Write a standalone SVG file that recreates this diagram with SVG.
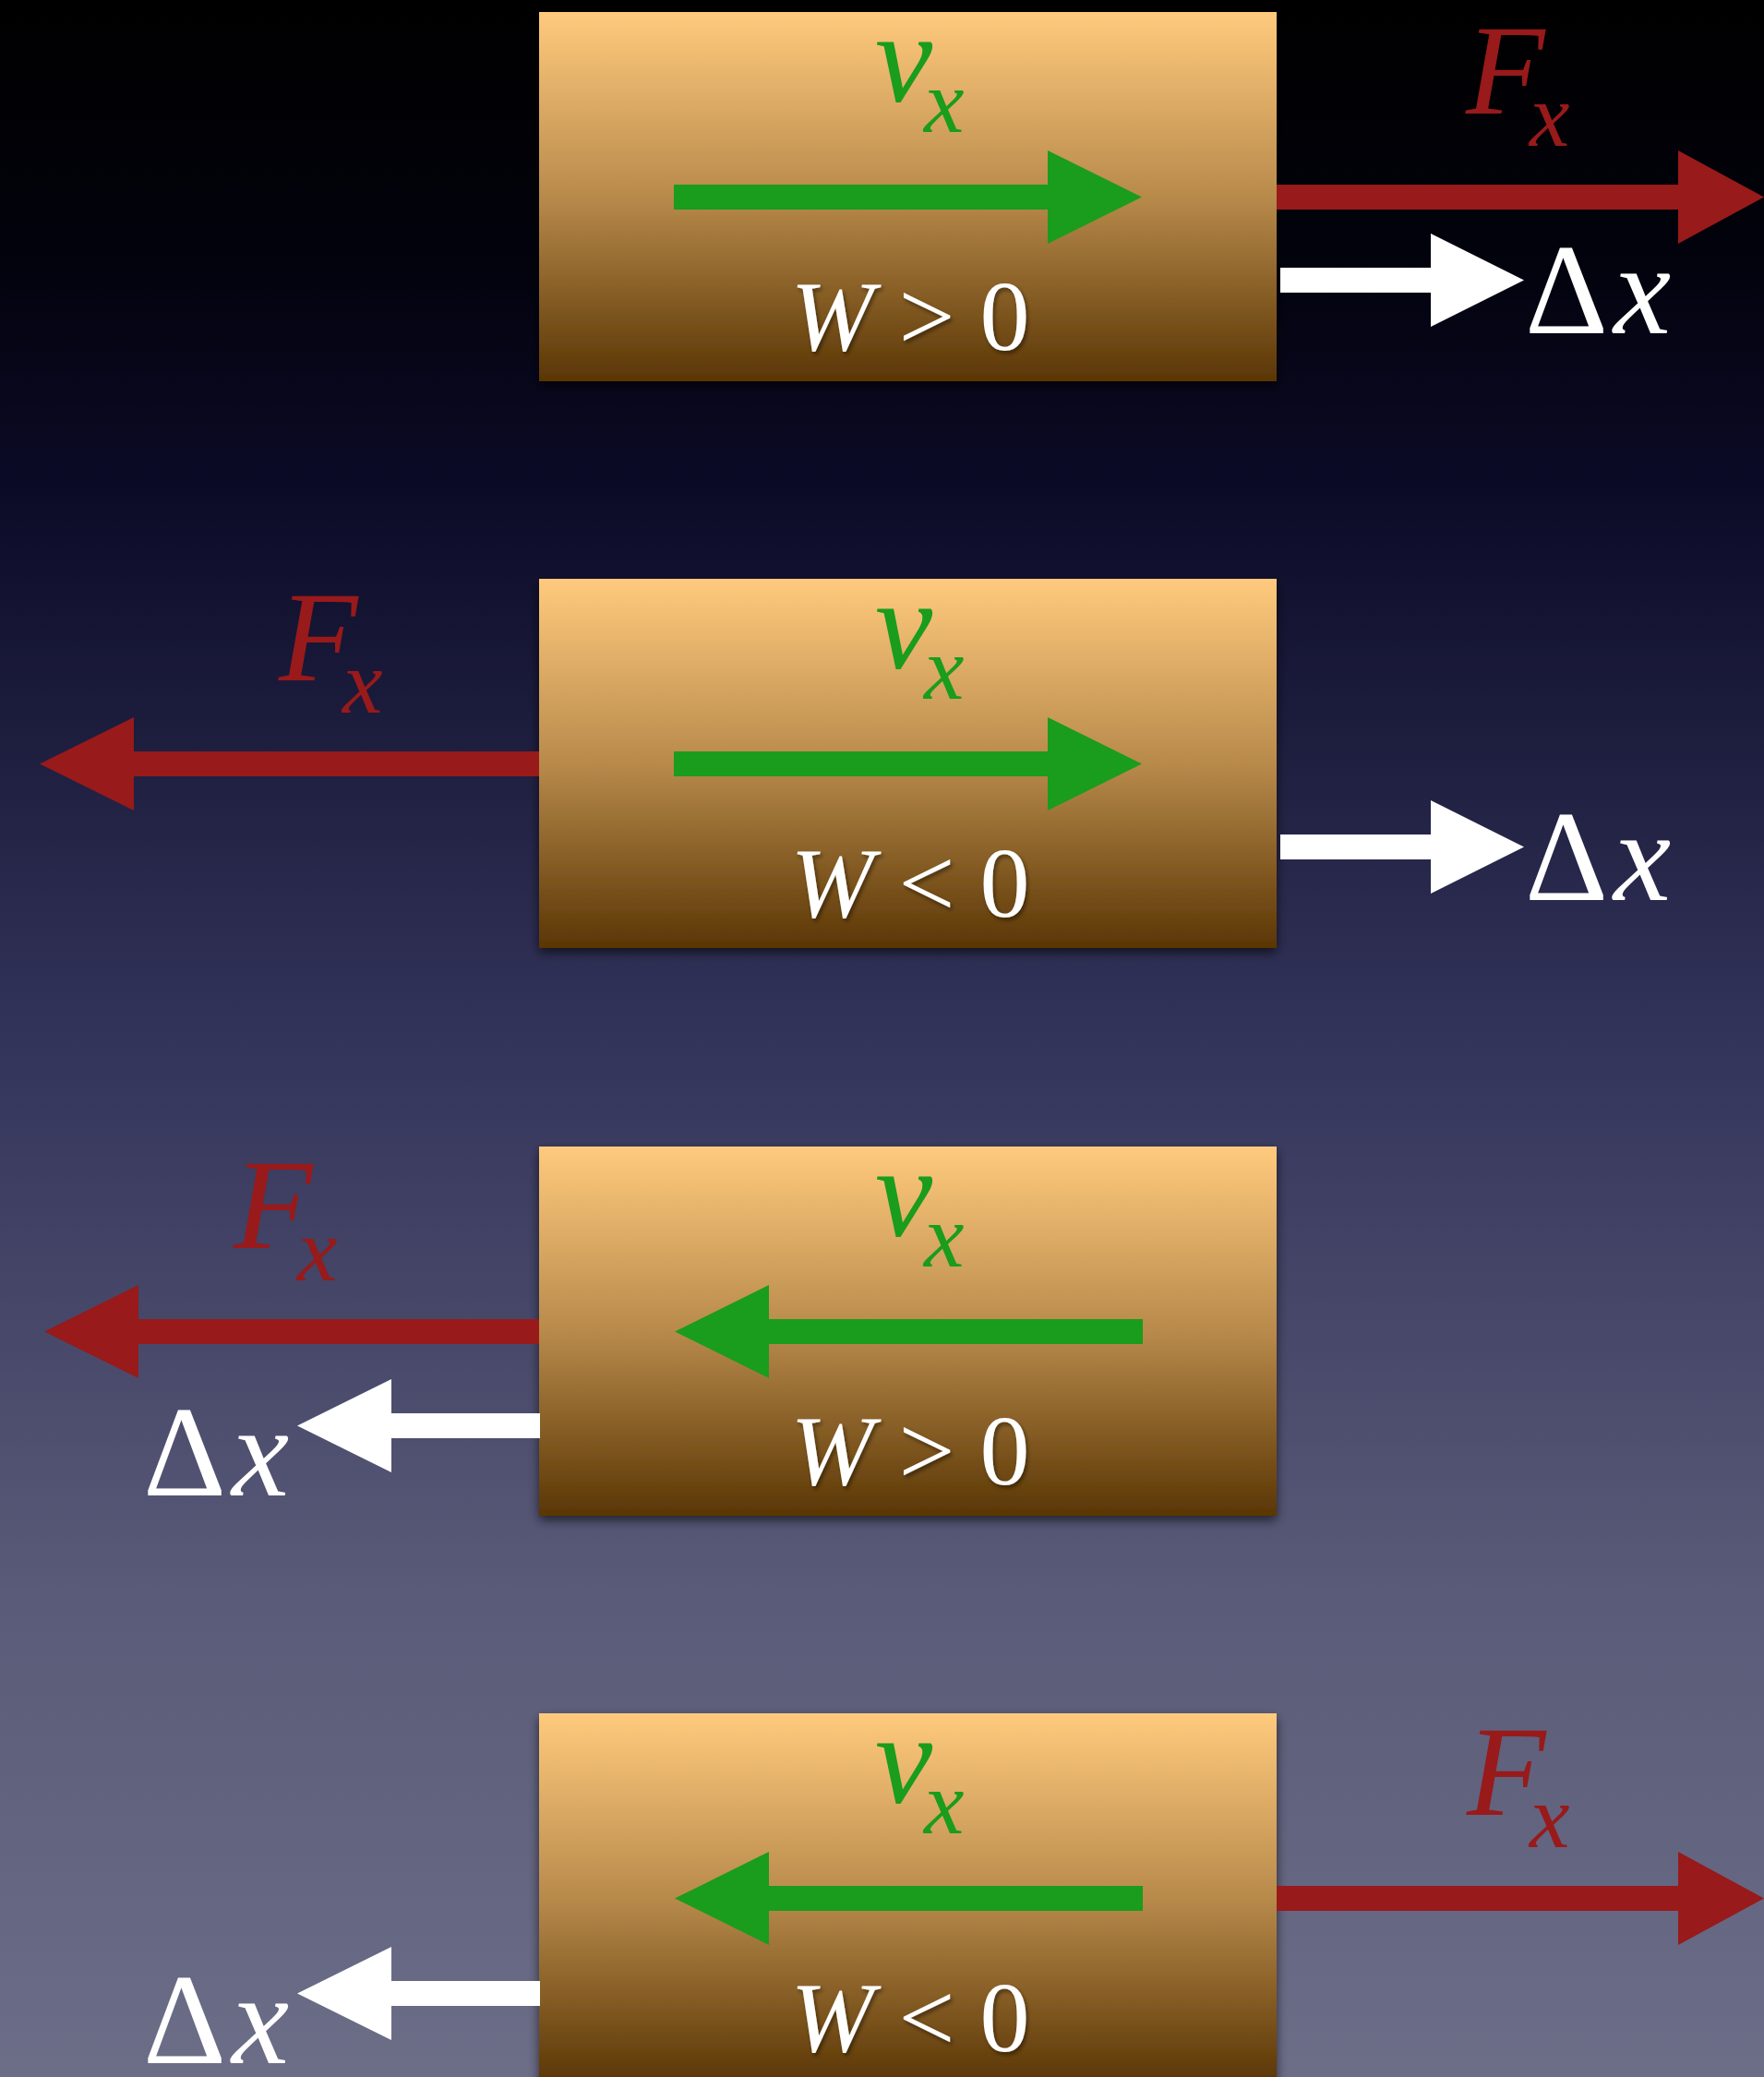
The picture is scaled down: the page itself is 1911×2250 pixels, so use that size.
<svg xmlns="http://www.w3.org/2000/svg" width="1911" height="2250" viewBox="0 0 1911 2250">
  <defs>
    <linearGradient id="bg" x1="0" y1="0" x2="0" y2="1">
      <stop offset="0" stop-color="#000000"/>
      <stop offset="0.12" stop-color="#02020c"/>
      <stop offset="0.24" stop-color="#0c0b28"/>
      <stop offset="0.5" stop-color="#33345a"/>
      <stop offset="0.77" stop-color="#5a5b78"/>
      <stop offset="1" stop-color="#6c6d87"/>
    </linearGradient>
    <linearGradient id="boxg" x1="0" y1="0" x2="0" y2="1">
      <stop offset="0" stop-color="#ffca7d"/>
      <stop offset="0.5" stop-color="#b88a4b"/>
      <stop offset="1" stop-color="#5a3604"/>
    </linearGradient>
    <filter id="shadow" x="-5%" y="-5%" width="110%" height="115%">
      <feDropShadow dx="0" dy="5" stdDeviation="6" flood-color="#000" flood-opacity="0.6"/>
    </filter>
    <filter id="tshadow" x="-10%" y="-10%" width="120%" height="130%">
      <feDropShadow dx="2" dy="3" stdDeviation="2" flood-color="#000" flood-opacity="0.45"/>
    </filter>
  </defs>
  <style>
    .box { fill: url(#boxg); filter: url(#shadow); }
    .green { fill: #1a9c1d; }
    .red { fill: #981a1a; }
    .white { fill: #ffffff; }
    .math { font-family: "Liberation Serif", "Times New Roman", serif; }
    .it { font-style: italic; }
    .big { font-size: 140px; }
    .sub { font-size: 98px; }
    .w { font-size: 108px; fill: #ffffff; text-anchor: middle; filter: url(#tshadow); }
    .vlab { fill: #1a9c1d; }
    .flab { fill: #981a1a; }
    .dlab { fill: #ffffff; }
  </style>
  <rect x="0" y="0" width="1911" height="2250" fill="url(#bg)"/>

  <g id="block1">
    <rect class="box" x="584" y="13" width="799" height="400"/>
    <text class="math it big vlab" x="948" y="110">v<tspan class="sub" x="1001" y="143">x</tspan></text>
    <text class="math w" x="986" y="379"><tspan class="it">W</tspan> &gt; 0</text>
  </g>
  <g id="block2">
    <rect class="box" x="584" y="627" width="799" height="400"/>
    <text class="math it big vlab" x="948" y="724">v<tspan class="sub" x="1001" y="757">x</tspan></text>
    <text class="math w" x="986" y="993"><tspan class="it">W</tspan> &lt; 0</text>
  </g>
  <g id="block3">
    <rect class="box" x="584" y="1242" width="799" height="400"/>
    <text class="math it big vlab" x="948" y="1339">v<tspan class="sub" x="1001" y="1372">x</tspan></text>
    <text class="math w" x="986" y="1608"><tspan class="it">W</tspan> &gt; 0</text>
  </g>
  <g id="block4">
    <rect class="box" x="584" y="1856" width="799" height="400"/>
    <text class="math it big vlab" x="948" y="1953">v<tspan class="sub" x="1001" y="1986">x</tspan></text>
    <text class="math w" x="986" y="2222"><tspan class="it">W</tspan> &lt; 0</text>
  </g>

  <g id="connectors">
    <!-- velocity arrows (green) -->
    <polygon class="green" points="730,200 1135,200 1135,163 1237,213.5 1135,264 1135,227 730,227"/>
    <polygon class="green" points="730,814 1135,814 1135,777 1237,827.5 1135,878 1135,841 730,841"/>
    <polygon class="green" points="1238,1429 833,1429 833,1392 731,1442.5 833,1493 833,1456 1238,1456"/>
    <polygon class="green" points="1238,2043 833,2043 833,2006 731,2056.5 833,2107 833,2070 1238,2070"/>

    <!-- force arrows (red) -->
    <polygon class="red" points="1383,200 1818,200 1818,163 1911,213.5 1818,264 1818,227 1383,227"/>
    <polygon class="red" points="584,814 145,814 145,777 43,827.5 145,878 145,841 584,841"/>
    <polygon class="red" points="584,1429 150,1429 150,1392 48,1442.5 150,1493 150,1456 584,1456"/>
    <polygon class="red" points="1383,2043 1818,2043 1818,2006 1911,2056.5 1818,2107 1818,2070 1383,2070"/>

    <!-- displacement arrows (white) -->
    <polygon class="white" points="1387,290 1550,290 1550,253 1651,303.5 1550,354 1550,317 1387,317"/>
    <polygon class="white" points="1387,904 1550,904 1550,867 1651,917.5 1550,968 1550,931 1387,931"/>
    <polygon class="white" points="585,1531 424,1531 424,1494 322,1544.5 424,1595 424,1558 585,1558"/>
    <polygon class="white" points="585,2146 424,2146 424,2109 322,2159.5 424,2210 424,2173 585,2173"/>

    <!-- labels -->
    <text class="math it big flab" x="1588" y="123">F<tspan class="sub" x="1657" y="158">x</tspan></text>
    <text class="math it big flab" x="302" y="737">F<tspan class="sub" x="371" y="772">x</tspan></text>
    <text class="math it big flab" x="253" y="1352">F<tspan class="sub" x="322" y="1387">x</tspan></text>
    <text class="math it big flab" x="1589" y="1966">F<tspan class="sub" x="1657" y="2001">x</tspan></text>

    <text class="math big dlab" x="1652" y="361">Δ<tspan class="it" x="1748">x</tspan></text>
    <text class="math big dlab" x="1652" y="975">Δ<tspan class="it" x="1748">x</tspan></text>
    <text class="math big dlab" x="155" y="1620">Δ<tspan class="it" x="251">x</tspan></text>
    <text class="math big dlab" x="155" y="2235">Δ<tspan class="it" x="251">x</tspan></text>
  </g>
</svg>
